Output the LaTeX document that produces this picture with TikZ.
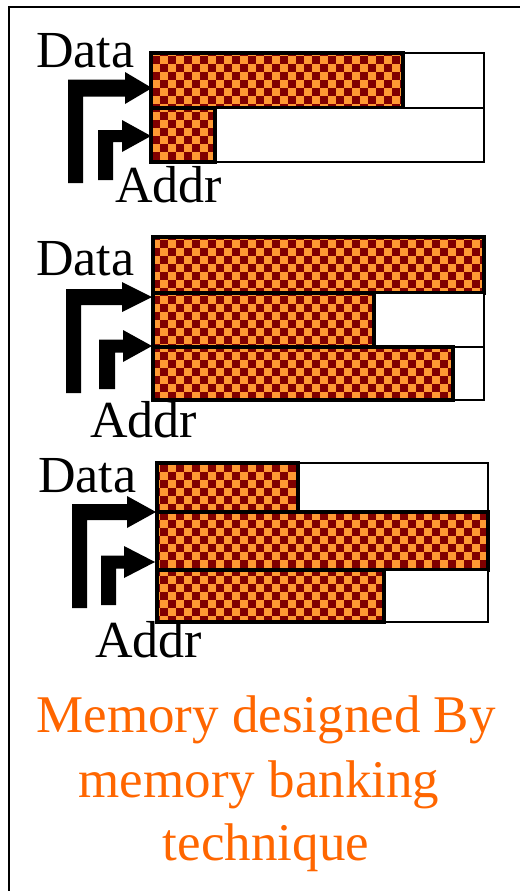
\documentclass[tikz,border=0pt]{standalone}
\usepackage{fontspec}
\setmainfont{Liberation Serif}

\definecolor{chkdark}{HTML}{800000}
\definecolor{chklight}{HTML}{FF9933}
\definecolor{captionorange}{HTML}{FF6600}

\tikzset{
  rowframe/.style={draw=black, line width=2.8pt, fill=white},
  rowused/.style={draw=black, line width=3.2pt},
  bus/.style={fill=black},
  lbl/.style={anchor=base west, inner sep=0pt, font=\fontsize{52}{60}\selectfont},
  captext/.style={anchor=base, inner sep=0pt, text=captionorange, font=\fontsize{53}{64}\selectfont},
}

% one memory row: frame, then the used part filled with 8pt checks
\newcommand\memrow[5]{%
  \draw[rowframe] (#1,#2) rectangle (#3,#4);
  \begin{scope}
    \clip (#1,#2) rectangle (#5,#4);
    \fill[chklight] (#1,#2) rectangle (#5,#4);
    \pgfmathtruncatemacro\cxa{floor(#1/16)}%
    \pgfmathtruncatemacro\cxb{floor(#5/16)}%
    \pgfmathtruncatemacro\cya{floor(#2/16)}%
    \pgfmathtruncatemacro\cyb{floor(#4/16)}%
    \foreach \gx in {\cxa,...,\cxb}{%
      \foreach \gy in {\cya,...,\cyb}{%
        \fill[chkdark] ({16*\gx},{16*\gy}) rectangle ++(8,8);
        \fill[chkdark] ({16*\gx+8},{16*\gy+8}) rectangle ++(8,8);
      }%
    }%
  \end{scope}
  \draw[rowused] (#1,#2) rectangle (#5,#4);
}

% L-shaped bus arrow ending at a named tip
% #1 tip, #2 tip y, #3 left x, #4 stem width, #5 bar thickness, #6 head base x, #7 head half height, #8 bottom y
\newcommand\busarrow[8]{%
  \fill[bus] (#3,#8) -- (#3,{#2-#5/2}) -- (#6,{#2-#5/2}) -- (#6,{#2-#7}) -- (#1)
    -- (#6,{#2+#7}) -- (#6,{#2+#5/2}) -- ({#3+#4},{#2+#5/2}) -- ({#3+#4},#8) -- cycle;
}

\begin{document}
\begin{tikzpicture}[x=1pt,y=-1pt]
\useasboundingbox (0,0) rectangle (520,891);

% outer frame
\draw[line width=2.4pt] (9,891) -- (9,7) -- (520,7);

% first memory: two rows
\memrow{151}{53}{484}{108}{403}
\memrow{151}{108}{484}{162}{215}
\coordinate (d1) at (152,88);
\coordinate (a1) at (151,136);
\busarrow{d1}{88}{68}{15}{17}{125}{16}{183}
\busarrow{a1}{136}{98}{15}{12}{122}{16}{180}
\node[lbl] (data1) at (36,67) {Data};
\node[lbl] (addr1) at (115,202) {Addr};

% second memory: three rows
\memrow{153}{237}{484}{293}{484}
\memrow{153}{293}{484}{347}{374}
\memrow{153}{347}{484}{400}{453}
\coordinate (d2) at (152,297);
\coordinate (a2) at (152,346);
\busarrow{d2}{297}{66}{15}{16}{122}{15}{393}
\busarrow{a2}{346}{99}{16}{13}{123}{16}{389}
\node[lbl] (data2) at (36,275) {Data};
\node[lbl] (addr2) at (90,437) {Addr};

% third memory: three rows
\memrow{157}{463}{488}{512}{298}
\memrow{157}{512}{488}{570}{488}
\memrow{157}{570}{488}{622}{384}
\coordinate (d3) at (156,512);
\coordinate (a3) at (155,562);
\busarrow{d3}{512}{72}{15}{16}{127}{16}{608}
\busarrow{a3}{562}{101}{15}{13}{124}{16}{605}
\node[lbl] (data3) at (38,492) {Data};
\node[lbl] (addr3) at (95,657) {Addr};

% caption
\node[captext] (cap1) at (266,732) {Memory designed By};
\node[captext] (cap2) at (259,797) {memory banking};
\node[captext] (cap3) at (266,860) {technique};
\end{tikzpicture}
\end{document}
